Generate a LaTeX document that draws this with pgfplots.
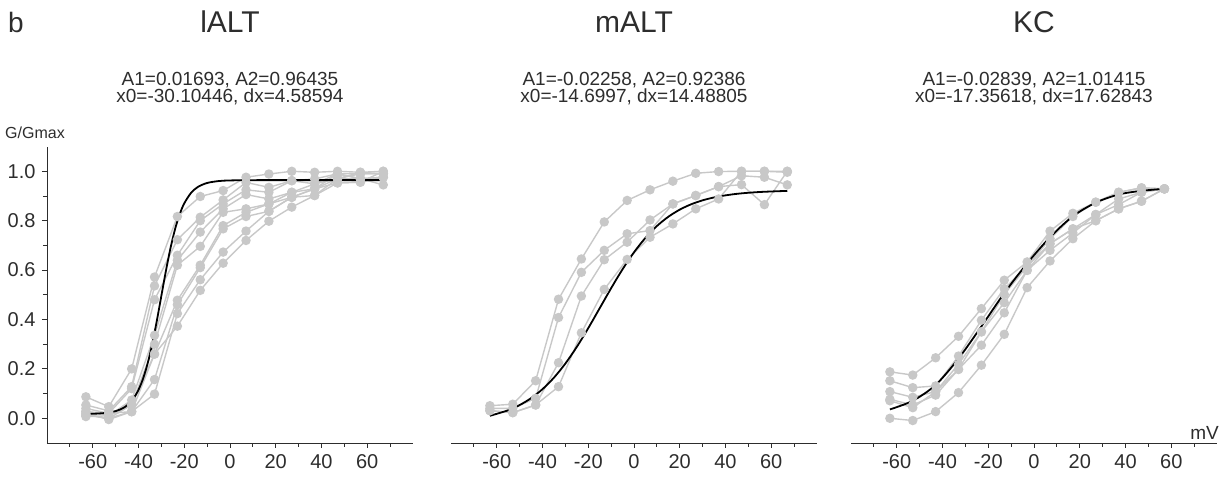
\documentclass[border=0pt]{standalone}
\usepackage{pgfplots}
\usepackage{pgfplotstable}
\pgfplotsset{compat=1.18}
\usepackage{fontspec}
\setmainfont{Liberation Sans}
\definecolor{ptgray}{RGB}{200,200,200}
\definecolor{axgray}{RGB}{45,45,45}

\pgfplotstableread{
x c1 c2 c3 c4 c5 c6 c7 c8 c9
-63 0.087 0.054 0.040 0.027 0.013 0.007 0.020 0.027 0.013
-53 0.047 0.030 0.020 0.010 0.000 0.010 -0.005 0.020 0.000
-43 0.200 0.128 0.120 0.074 0.054 0.054 0.027 0.027 0.027
-33 0.572 0.536 0.480 0.336 0.300 0.260 0.157 0.098 0.260
-23 0.817 0.723 0.660 0.640 0.620 0.478 0.460 0.424 0.373
-13 0.898 0.814 0.800 0.754 0.696 0.620 0.610 0.561 0.518
-3 0.922 0.884 0.868 0.848 0.834 0.780 0.767 0.673 0.628
7 0.976 0.955 0.925 0.906 0.848 0.834 0.817 0.758 0.720
17 0.989 0.935 0.915 0.888 0.868 0.868 0.838 0.838 0.798
27 1.000 0.962 0.962 0.915 0.915 0.895 0.895 0.895 0.855
37 0.996 0.969 0.949 0.949 0.929 0.929 0.929 0.902 0.902
47 1.000 0.990 0.990 0.970 0.990 0.970 0.953 0.970 0.953
57 0.996 0.990 0.970 0.990 0.970 0.996 0.956 0.970 0.956
67 1.000 0.990 0.976 0.990 0.976 0.990 1.000 0.945 0.976
}\lalt

\pgfplotstableread{
x y
-63 0.0177
-58 0.0191
-55 0.0211
-50 0.0291
-47 0.0402
-45 0.0524
-43 0.0706
-42 0.0828
-40 0.1151
-38 0.1606
-36 0.2222
-34 0.3007
-32 0.3941
-30 0.4960
-28 0.5975
-26 0.6895
-24 0.7664
-22 0.8261
-20 0.8701
-17 0.9129
-14 0.9369
-10 0.9527
-5 0.9604
0 0.9630
10 0.9641
30 0.9643
67 0.9643
}\laltfit

\pgfplotstableread{
x c1 c2 c3 c4
-63 0.051 0.040 0.031 0.031
-53 0.057 0.040 0.023 0.023
-43 0.152 0.081 0.054 0.054
-33 0.482 0.408 0.225 0.128
-23 0.645 0.591 0.495 0.346
-13 0.795 0.680 0.642 0.522
-3 0.882 0.747 0.713 0.643
7 0.925 0.760 0.803 0.733
17 0.960 0.868 0.868 0.787
27 0.992 0.902 0.902 0.848
37 0.999 0.938 0.938 0.888
47 1.000 0.982 0.946 1.000
57 1.000 0.976 0.865 1.000
67 0.996 0.945 1.000 1.000
}\malt

\pgfplotstableread{
x y
-63 0.0100
-55 0.0326
-50 0.0536
-45 0.0815
-40 0.1180
-35 0.1645
-30 0.2217
-25 0.2892
-20 0.3650
-15 0.4457
-10 0.5267
-5 0.6034
0 0.6720
5 0.7305
10 0.7783
15 0.8159
20 0.8448
25 0.8665
30 0.8825
35 0.8942
40 0.9026
45 0.9088
50 0.9131
55 0.9162
60 0.9183
67 0.9207
}\maltfit

\pgfplotstableread{
x c1 c2 c3 c4 c5 c6
-63 0.188 0.152 0.108 0.077 0.071 0.000
-53 0.175 0.124 0.085 0.054 0.043 -0.009
-43 0.245 0.131 0.108 0.094 0.108 0.027
-33 0.332 0.252 0.219 0.198 0.198 0.104
-23 0.444 0.397 0.350 0.350 0.296 0.215
-13 0.559 0.525 0.502 0.468 0.427 0.340
-3 0.633 0.615 0.615 0.599 0.599 0.529
7 0.758 0.727 0.707 0.680 0.707 0.637
17 0.830 0.817 0.767 0.750 0.767 0.727
27 0.875 0.875 0.825 0.825 0.800 0.800
37 0.915 0.915 0.888 0.865 0.848 0.848
47 0.933 0.933 0.915 0.915 0.879 0.879
57 0.929 0.929 0.929 0.929 0.929 0.929
}\kc

\pgfplotstableread{
x y
-63 0.036
-53 0.071
-43 0.135
-33 0.242
-23 0.372
-13 0.507
-3 0.627
7 0.733
17 0.818
27 0.873
37 0.906
47 0.921
57 0.929
}\kcfit

\pgfplotsset{
 panel/.style={
  scale only axis, width=366pt, height=296.4pt,
  xmin=-80, xmax=80, ymin=-0.1, ymax=1.1,
  axis x line*=bottom,
  axis line style={-, draw=axgray, line width=0.9pt},
  xtick={-60,-40,-20,0,20,40,60},
  xticklabels={-60,-40,-20,0,20,40,60},
  minor xtick={-70,-50,-30,-10,10,30,50,70},
  tick align=outside,
  major tick length=5pt, minor tick length=4pt,
  tick style={draw=axgray, line width=0.8pt},
  tick label style={font=\fontsize{20}{23}\selectfont, text=axgray},
  xticklabel style={yshift=-3pt},
  clip=false,
 },
 gcurve/.style={draw=ptgray, line width=1.4pt, mark=*, mark size=4pt, mark options={fill=ptgray, draw=ptgray, solid}},
 fitc/.style={draw=black, line width=1.8pt, smooth, no marks},
}

\begin{document}
\begin{tikzpicture}
\useasboundingbox (0,0) rectangle (1232pt,479pt);

% left panel
\begin{axis}[panel, at={(47pt,36pt)}, anchor=south west,
  axis y line*=left,
  ytick={0,0.2,0.4,0.6,0.8,1.0},
  yticklabels={0.0,0.2,0.4,0.6,0.8,1.0},
  minor ytick={0.1,0.3,0.5,0.7,0.9},
  yticklabel style={xshift=-3pt}]
\foreach \c in {c1,c2,c3,c4,c5,c6,c7,c8,c9}{
  \addplot[gcurve] table[x=x,y=\c]{\lalt};
}
\addplot[fitc] table[x=x,y=y]{\laltfit};
\end{axis}

% middle panel
\begin{axis}[panel, at={(451pt,36pt)}, anchor=south west,
  axis y line=none, ytick=\empty]
\foreach \c in {c1,c2,c3,c4}{
  \addplot[gcurve] table[x=x,y=\c]{\malt};
}
\addplot[fitc] table[x=x,y=y]{\maltfit};
\end{axis}

% right panel
\begin{axis}[panel, at={(851pt,36pt)}, anchor=south west,
  axis y line=none, ytick=\empty]
\foreach \c in {c1,c2,c3,c4,c5,c6}{
  \addplot[gcurve] table[x=x,y=\c]{\kc};
}
\addplot[fitc] table[x=x,y=y]{\kcfit};
\end{axis}

\begin{scope}[every node/.style={text=axgray, inner sep=0pt}]
\node[anchor=west] at (8pt,457pt) {\fontsize{28}{32}\selectfont b};
\node at (230pt,457pt) {\fontsize{30}{34}\selectfont lALT};
\node at (634pt,457pt) {\fontsize{30}{34}\selectfont mALT};
\node at (1034pt,457pt) {\fontsize{30}{34}\selectfont KC};
\node[align=center] at (230pt,390.5pt) {\fontsize{19}{23}\selectfont A1=0.01693, A2=0.96435\\ \fontsize{19}{23}\selectfont x0=-30.10446, dx=4.58594};
\node[align=center] at (634pt,390.5pt) {\fontsize{19}{23}\selectfont A1=-0.02258, A2=0.92386\\ \fontsize{19}{23}\selectfont x0=-14.6997, dx=14.48805};
\node[align=center] at (1034pt,390.5pt) {\fontsize{19}{23}\selectfont A1=-0.02839, A2=1.01415\\ \fontsize{19}{23}\selectfont x0=-17.35618, dx=17.62843};
\node[anchor=west] at (5pt,346pt) {\fontsize{16}{19}\selectfont G/Gmax};
\node[anchor=east] at (1219pt,46pt) {\fontsize{19}{22}\selectfont mV};
\end{scope}
\end{tikzpicture}
\end{document}
